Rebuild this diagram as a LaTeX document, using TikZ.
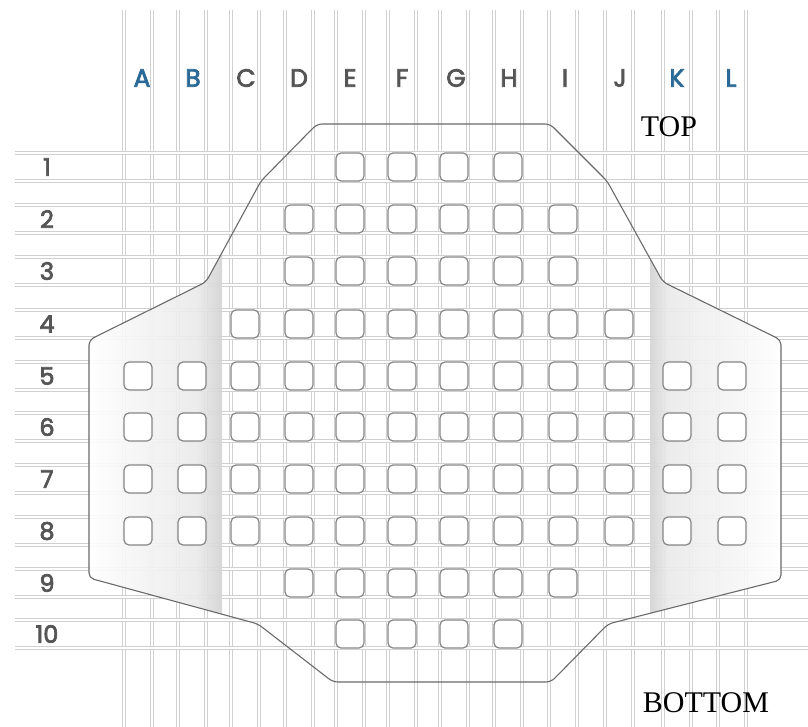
\documentclass[tikz,border=0pt]{standalone}
\usepackage{fontspec}
\setmainfont{Liberation Serif}
\newfontfamily\popfont[FakeBold=3]{Poppins}
\definecolor{lblue}{HTML}{2B6A97}
\definecolor{lgray}{HTML}{555555}
\definecolor{gridc}{HTML}{D0D0D0}
\definecolor{edgec}{HTML}{6A6A6A}
\definecolor{padc}{HTML}{858585}
\tikzset{
 gridline/.style={draw=gridc, line width=0.9pt, double=white, double distance=1.3pt},
 pad/.style={draw=padc, fill=white, rounded corners=5pt, minimum width=28pt, minimum height=28pt, line width=1.2pt, inner sep=0pt},
 collabel/.style={font=\popfont\fontsize{25}{25}\selectfont, text=lgray, inner sep=0pt},
 rowlabel/.style={font=\popfont\fontsize{24}{24}\selectfont, text=lgray, inner sep=0pt},
 sidelabel/.style={font=\fontsize{30}{30}\selectfont, text=black, inner sep=0pt},
 chipedge/.style={draw=edgec, line width=1.1pt, rounded corners=5pt},
}
\def\colxA{138}\def\colxB{192}\def\colxC{245}\def\colxD{299}\def\colxE{350}\def\colxF{402}
\def\colxG{454}\def\colxH{508}\def\colxI{563}\def\colxJ{619}\def\colxK{677}\def\colxL{732}
\begin{document}
\begin{tikzpicture}[x=1pt,y=-1pt]
\useasboundingbox (0,0) rectangle (808,727);
\fill[white] (0,0) rectangle (808,727);
% grid
\foreach \c in {138,192,245,299,350,402,454,508,563,619,677,732} {
  \draw[gridline] (\c-14,10) -- (\c-14,727);
  \draw[gridline] (\c+14,10) -- (\c+14,727);
}
\foreach \r in {167,219,271,324,376,427,479,531,583,634} {
  \draw[gridline] (15,\r-14) -- (808,\r-14);
  \draw[gridline] (15,\r+14) -- (808,\r+14);
}
% side shading of the plate
\begin{scope}
  \clip[rounded corners=5pt] (317,124) -- (550,124) -- (607,181) -- (663,282) -- (781,340) -- (781,580) -- (608,624) -- (551,682) -- (333,682) -- (258,624) -- (89,578) -- (89,340) -- (206,282) -- (261,181) -- cycle;
  \shade[left color=white, right color=black!8, opacity=0.92] (85,200) rectangle (196,640);
  \shade[left color=black!8, right color=black!17, opacity=0.92] (196,200) rectangle (222,640);
  \shade[left color=black!17, right color=black!8, opacity=0.92] (650,200) rectangle (668,640);
  \shade[left color=black!8, right color=white, opacity=0.92] (668,200) rectangle (785,640);
\end{scope}
% plate outline
\draw[chipedge] (317,124) -- (550,124) -- (607,181) -- (663,282) -- (781,340) -- (781,580) -- (608,624) -- (551,682) -- (333,682) -- (258,624) -- (89,578) -- (89,340) -- (206,282) -- (261,181) -- cycle;
% pads
\foreach \r/\y/\cols in {1/167/{E,F,G,H}, 2/219/{D,E,F,G,H,I}, 3/271/{D,E,F,G,H,I},
  4/324/{C,D,E,F,G,H,I,J}, 5/376/{A,B,C,D,E,F,G,H,I,J,K,L}, 6/427/{A,B,C,D,E,F,G,H,I,J,K,L},
  7/479/{A,B,C,D,E,F,G,H,I,J,K,L}, 8/531/{A,B,C,D,E,F,G,H,I,J,K,L}, 9/583/{D,E,F,G,H,I},
  10/634/{E,F,G,H}} {
  \foreach \cc in \cols {
    \node[pad] (p\cc\r) at (\csname colx\cc\endcsname,\y) {};
  }
}
% column labels
\foreach \c/\x/\col in {A/142/lblue, B/193/lblue, C/246/lgray, D/299/lgray, E/350/lgray, F/402/lgray, G/456/lgray, H/509/lgray, I/565/lgray, J/620/lgray, K/677/lblue, L/731/lblue}
  \node[collabel, text=\col] (col\c) at (\x,78) {\c};
% row labels
\foreach \r/\y in {1/167,2/219,3/271,4/324,5/376,6/427,7/479,8/531,9/583,10/634}
  \node[rowlabel] (row\r) at (47,\y) {\r};
% side labels
\node[sidelabel] (top) at (669,127) {TOP};
\node[sidelabel] (bottom) at (706,703) {BOTTOM};
\end{tikzpicture}
\end{document}
